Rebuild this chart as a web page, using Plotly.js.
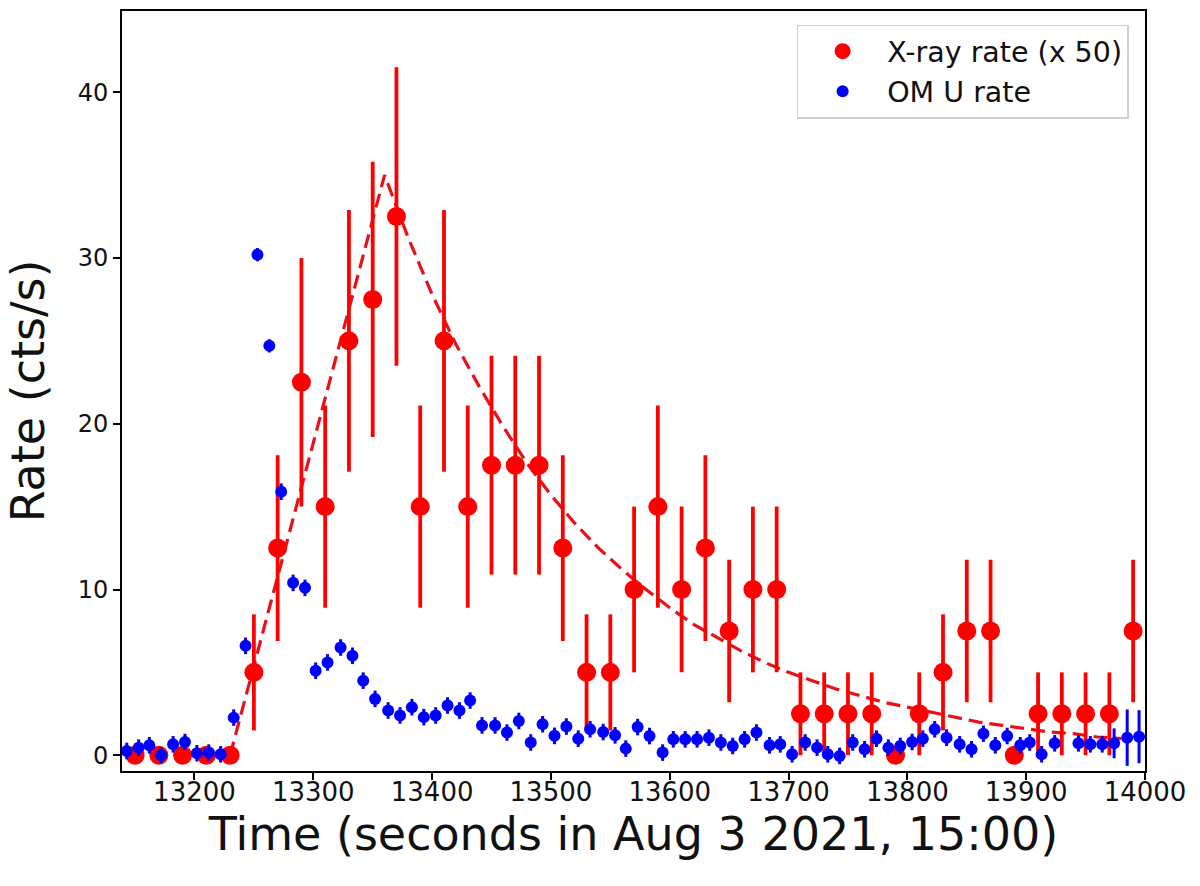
<!DOCTYPE html>
<html>
<head>
<meta charset="utf-8">
<script src="https://cdn.plot.ly/plotly-3.0.1.min.js"></script>
<style>
  html, body { margin: 0; padding: 0; background: #fff; }
  #tester { width: 1200px; height: 886px; }
</style>
</head>
<body>
<div id="tester"></div>
<script>
"use strict";

// X-ray rate (x 50), 20 s bins
let xrayTime = [13150, 13170, 13190, 13210, 13230, 13250, 13270, 13290, 13310, 13330,
                13350, 13370, 13390, 13410, 13430, 13450, 13470, 13490, 13510, 13530,
                13550, 13570, 13590, 13610, 13630, 13650, 13670, 13690, 13710, 13730,
                13750, 13770, 13790, 13810, 13830, 13850, 13870, 13890, 13910, 13930,
                13950, 13970, 13990];
let xrayRate = [0, 0, 0, 0, 0, 5, 12.5, 22.5, 15, 25,
                27.5, 32.5, 15, 25, 15, 17.5, 17.5, 17.5, 12.5, 5,
                5, 10, 15, 10, 12.5, 7.5, 10, 10, 2.5, 2.5,
                2.5, 2.5, 0, 2.5, 5, 7.5, 7.5, 0, 2.5, 2.5,
                2.5, 2.5, 7.5];
let xrayErr = [0, 0, 0, 0, 0, 3.5, 5.6, 7.5, 6.1, 7.9,
               8.3, 9.0, 6.1, 7.9, 6.1, 6.6, 6.6, 6.6, 5.6, 3.5,
               3.5, 5.0, 6.1, 5.0, 5.6, 4.3, 5.0, 5.0, 2.5, 2.5,
               2.5, 2.5, 0, 2.5, 3.5, 4.3, 4.3, 0, 2.5, 2.5,
               2.5, 2.5, 4.3];

// OM U rate
let omTime = [13143, 13153, 13162, 13172, 13182, 13192, 13202, 13212, 13222, 13233,
              13243, 13253, 13263, 13273, 13283, 13293, 13302, 13312, 13323, 13333,
              13342, 13352, 13363, 13373, 13383, 13393, 13403, 13413, 13423, 13432,
              13442, 13453, 13463, 13473, 13483, 13493, 13503, 13513, 13523, 13533,
              13544, 13554, 13563, 13573, 13583, 13594, 13603, 13613, 13623, 13633,
              13643, 13653, 13663, 13673, 13684, 13693, 13703, 13714, 13724, 13733,
              13743, 13754, 13764, 13774, 13784, 13794, 13804, 13813, 13823, 13833,
              13844, 13854, 13864, 13874, 13884, 13895, 13903, 13913, 13924, 13944,
              13954, 13964, 13974, 13985, 13995];
let omRate = [0.26, 0.46, 0.6, 0.0, 0.66, 0.8, 0.12, 0.16, 0.06, 2.27,
              6.6, 30.2, 24.7, 15.9, 10.4, 10.1, 5.1, 5.6, 6.5, 6.0,
              4.5, 3.4, 2.7, 2.4, 2.9, 2.3, 2.4, 3.0, 2.7, 3.3,
              1.8, 1.8, 1.37, 2.07, 0.77, 1.87, 1.17, 1.73, 1.0, 1.57,
              1.4, 1.2, 0.4, 1.7, 1.16, 0.16, 0.96, 0.96, 0.96, 1.06,
              0.77, 0.56, 0.96, 1.37, 0.6, 0.66, 0.06, 0.77, 0.46, 0.06,
              -0.04, 0.77, 0.36, 1.0, 0.46, 0.56, 0.8, 1.0, 1.57, 1.06,
              0.66, 0.36, 1.3, 0.6, 1.16, 0.6, 0.77, 0.06, 0.72, 0.72,
              0.66, 0.66, 0.72, 1.06, 1.12];
let omErr = [0.5, 0.5, 0.5, 0.5, 0.5, 0.5, 0.5, 0.5, 0.5, 0.5,
             0.5, 0.4, 0.4, 0.5, 0.5, 0.5, 0.5, 0.5, 0.5, 0.5,
             0.5, 0.5, 0.5, 0.5, 0.5, 0.5, 0.5, 0.5, 0.5, 0.5,
             0.5, 0.5, 0.5, 0.5, 0.5, 0.5, 0.5, 0.5, 0.5, 0.5,
             0.5, 0.5, 0.5, 0.5, 0.5, 0.5, 0.5, 0.5, 0.5, 0.5,
             0.5, 0.5, 0.5, 0.5, 0.5, 0.5, 0.5, 0.5, 0.5, 0.5,
             0.5, 0.5, 0.5, 0.5, 0.5, 0.5, 0.5, 0.5, 0.5, 0.5,
             0.5, 0.5, 0.5, 0.5, 0.5, 0.5, 0.5, 0.5, 0.5, 0.5,
             0.5, 0.5, 0.9, 1.7, 1.6];

// fitted profile (dashed)
let fitTime = [13230, 13360, 13380, 13400, 13420, 13440, 13460, 13480, 13500, 13520,
               13540, 13560, 13580, 13600, 13620, 13640, 13660, 13680, 13700, 13720,
               13740, 13760, 13780, 13800, 13820, 13840, 13860, 13880, 13900, 13920,
               13940, 13960, 13980];
let fitRate = [0, 35, 31.2, 27.8, 24.8, 22.2, 19.8, 17.6, 15.7, 14.0,
               12.5, 11.2, 10.0, 8.9, 7.9, 7.1, 6.3, 5.6, 5.0, 4.5,
               4.0, 3.6, 3.2, 2.9, 2.6, 2.3, 2.0, 1.8, 1.6, 1.4,
               1.3, 1.1, 1.0];

let xTicks = [13200, 13300, 13400, 13500, 13600, 13700, 13800, 13900, 14000];
let yTicks = [0, 10, 20, 30, 40];

function main() {
    let font = "DejaVu Sans, Liberation Sans, sans-serif";

    let fit = {
        x: fitTime,
        y: fitRate,
        mode: "lines",
        line: { color: "#e8111a", width: 3.2, dash: "14px,7px" },
        showlegend: false,
        hoverinfo: "skip",
        type: "scatter"
    };
    let xray = {
        x: xrayTime,
        y: xrayRate,
        name: "X-ray rate (x 50)",
        mode: "markers",
        marker: { color: "#ff0000", size: 19 },
        error_y: { type: "data", array: xrayErr, visible: true,
                   color: "#ff0000", thickness: 3.8, width: 0 },
        type: "scatter"
    };
    let om = {
        x: omTime,
        y: omRate,
        name: "OM U rate",
        mode: "markers",
        marker: { color: "#0000ff", size: 12 },
        error_y: { type: "data", array: omErr, visible: true,
                   color: "#0000ff", thickness: 3, width: 0 },
        type: "scatter"
    };

    let axisCommon = {
        showline: true,
        linecolor: "#000",
        linewidth: 2,
        mirror: true,
        ticks: "outside",
        ticklen: 7,
        tickwidth: 2,
        tickcolor: "#000",
        showgrid: false,
        zeroline: false
    };

    let layout = {
        width: 1200,
        height: 886,
        margin: { l: 122, r: 55, t: 11, b: 115 },
        paper_bgcolor: "#fff",
        plot_bgcolor: "#fff",
        font: { family: font, color: "#111" },
        xaxis: Object.assign({}, axisCommon, {
            range: [13139, 14000],
            tickvals: xTicks,
            ticktext: xTicks.map(String),
            ticklabelstandoff: -10,
            tickfont: { family: font, size: 26, color: "#111" },
            title: { text: "Time (seconds in Aug 3 2021, 15:00)",
                     font: { family: font, size: 46, color: "#111" }, standoff: 0 }
        }),
        yaxis: Object.assign({}, axisCommon, {
            range: [-0.95, 44.9],
            tickvals: yTicks,
            ticktext: yTicks.map(String),
            tickfont: { family: font, size: 24, color: "#111" },
            title: { text: "Rate (cts/s)",
                     font: { family: font, size: 46, color: "#111" }, standoff: 19 }
        }),
        legend: {
            x: 0.984, y: 0.982, xanchor: "right", yanchor: "top",
            bgcolor: "#fff",
            bordercolor: "#d0d0d0",
            borderwidth: 1.5,
            font: { family: font, size: 28.5, color: "#111" },
            itemwidth: 79,
            tracegroupgap: 0
        },
        showlegend: true
    };

    let tester = document.getElementById("tester");
    tester.innerHTML = "";
    Plotly.newPlot(tester, [fit, xray, om], layout, { staticPlot: true });
}

document.addEventListener("DOMContentLoaded", event => main());
</script>
</body>
</html>
